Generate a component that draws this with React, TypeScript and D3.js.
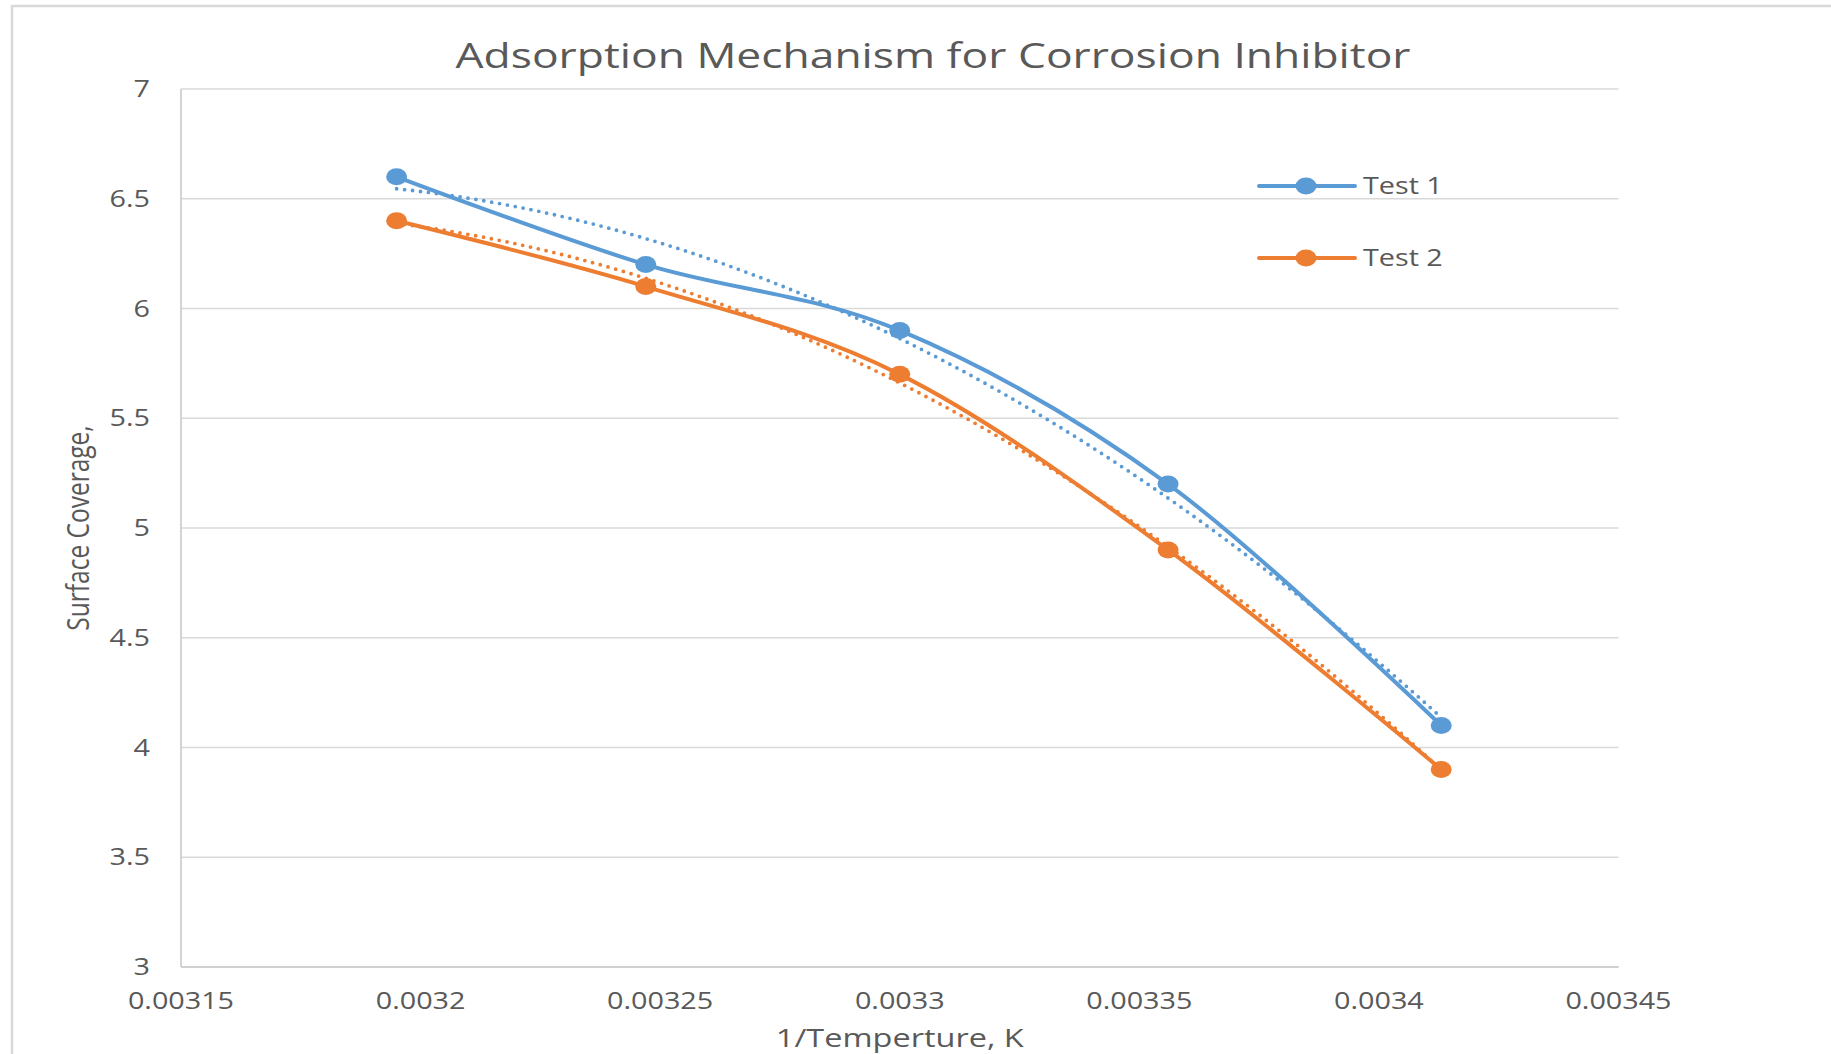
import React from "react";
import * as d3 from "d3";

const invTemp = [0.003195, 0.003247, 0.0033, 0.003356, 0.003413];
const test1 = [6.6, 6.2, 5.9, 5.2, 4.1];
const test2 = [6.4, 6.1, 5.7, 4.9, 3.9];
const xTicks = [0.00315, 0.0032, 0.00325, 0.0033, 0.00335, 0.0034, 0.00345];
const xTickLabels = ["0.00315", "0.0032", "0.00325", "0.0033", "0.00335", "0.0034", "0.00345"];
const yTicks = [3, 3.5, 4, 4.5, 5, 5.5, 6, 6.5, 7];
const seriesNames = ["Test 1", "Test 2"];
const seriesColors = ["#5B9BD5", "#ED7D31"];

const W = 1831;
const H = 1054;
const SX = 1.25;
const TXT = "#595959";
const FONT = "'Open Sans', 'Noto Sans', sans-serif";

// quadratic least-squares trendline (as Excel's polynomial order 2)
function polyFit2(xs: number[], ys: number[]) {
  const m = d3.mean(xs) as number;
  const s = 1e4;
  const t = xs.map((x) => (x - m) * s);
  let S0 = 0, S1 = 0, S2 = 0, S3 = 0, S4 = 0, T0 = 0, T1 = 0, T2 = 0;
  t.forEach((ti, i) => {
    const y = ys[i];
    S0 += 1; S1 += ti; S2 += ti * ti; S3 += ti ** 3; S4 += ti ** 4;
    T0 += y; T1 += ti * y; T2 += ti * ti * y;
  });
  const A = [
    [S0, S1, S2, T0],
    [S1, S2, S3, T1],
    [S2, S3, S4, T2],
  ];
  for (let i = 0; i < 3; i++) {
    let p = i;
    for (let r = i + 1; r < 3; r++) if (Math.abs(A[r][i]) > Math.abs(A[p][i])) p = r;
    [A[i], A[p]] = [A[p], A[i]];
    for (let r = 0; r < 3; r++) {
      if (r === i) continue;
      const f = A[r][i] / A[i][i];
      for (let c = i; c < 4; c++) A[r][c] -= f * A[i][c];
    }
  }
  const a = A[0][3] / A[0][0], b = A[1][3] / A[1][1], c = A[2][3] / A[2][2];
  return (x: number) => {
    const tt = (x - m) * s;
    return a + b * tt + c * tt * tt;
  };
}

export default function App() {
  const x = d3.scaleLinear().domain([0.00315, 0.00345]).range([181, 1618.5]);
  const y = d3.scaleLinear().domain([3, 7]).range([967, 89]);

  const line = d3
    .line<[number, number]>()
    .x((d) => x(d[0]))
    .y((d) => y(d[1]))
    .curve(d3.curveCardinal.tension(0));

  const straight = d3
    .line<[number, number]>()
    .x((d) => x(d[0]))
    .y((d) => y(d[1]));

  const series = [test1, test2];

  const trends = series.map((ys) => {
    const f = polyFit2(invTemp, ys);
    const x0 = invTemp[0];
    const x1 = invTemp[invTemp.length - 1];
    const pts: [number, number][] = d3.range(0, 61).map((i) => {
      const xv = x0 + ((x1 - x0) * i) / 60;
      return [xv, f(xv)];
    });
    return pts;
  });

  const legendY = [186, 258];

  return (
    <svg
      width={W}
      height={H}
      style={{ position: "absolute", left: 0, top: 0, background: "#fff" }}
      fontFamily={FONT}
    >
      <rect x={0} y={0} width={W} height={H} fill="#fff" />
      <rect x={12} y={6} width={W + 50} height={H + 50} fill="none" stroke="#d9d9d9" strokeWidth={2.5} />

      <text
        x={933}
        y={68}
        textAnchor="middle"
        fontSize={35}
        fill={TXT}
        textLength={955}
        lengthAdjust="spacingAndGlyphs"
      >
        Adsorption Mechanism for Corrosion Inhibitor
      </text>

      {yTicks.map((t) => (
        <line key={t} x1={x(0.00315)} x2={x(0.00345)} y1={y(t)} y2={y(t)} stroke="#d9d9d9" strokeWidth={1.5} />
      ))}
      <line x1={x(0.00315)} x2={x(0.00315)} y1={y(7)} y2={y(3)} stroke="#d0d0d0" strokeWidth={1.8} />
      <line x1={x(0.00315)} x2={x(0.00345)} y1={y(3)} y2={y(3)} stroke="#d0d0d0" strokeWidth={1.8} />

      {yTicks.map((t) => (
        <text
          key={t}
          transform={`translate(150,${y(t)}) scale(${SX},1)`}
          textAnchor="end"
          dy="0.35em"
          fontSize={23}
          fill={TXT}
        >
          {String(t)}
        </text>
      ))}

      {xTicks.map((t, i) => (
        <text
          key={t}
          transform={`translate(${x(t)},1009) scale(${SX},1)`}
          textAnchor="middle"
          fontSize={23}
          fill={TXT}
        >
          {xTickLabels[i]}
        </text>
      ))}

      <text
        transform={`translate(${(x(0.00315) + x(0.00345)) / 2},1047) scale(${SX},1)`}
        textAnchor="middle"
        fontSize={26}
        fill={TXT}
      >
        1/Temperture, K
      </text>
      <text
        transform={`translate(89,${(y(3) + y(7)) / 2}) scale(${SX},1) rotate(-90)`}
        textAnchor="middle"
        fontSize={24.5}
        fill={TXT}
      >
        Surface Coverage,
      </text>

      {trends.map((pts, i) => (
        <path
          key={"tr" + i}
          d={straight(pts) || ""}
          fill="none"
          stroke={seriesColors[i]}
          strokeWidth={3.8}
          strokeDasharray="0 8"
          strokeLinecap="round"
        />
      ))}

      {series.map((ys, i) => {
        const pts: [number, number][] = invTemp.map((xv, j) => [xv, ys[j]]);
        return (
          <g key={"s" + i}>
            <path d={line(pts) || ""} fill="none" stroke={seriesColors[i]} strokeWidth={4} strokeLinecap="round" />
            {pts.map((p, j) => (
              <ellipse key={j} cx={x(p[0])} cy={y(p[1])} rx={10.5} ry={8.5} fill={seriesColors[i]} />
            ))}
          </g>
        );
      })}

      {seriesNames.map((name, i) => (
        <g key={name}>
          <line x1={1259} x2={1355} y1={legendY[i]} y2={legendY[i]} stroke={seriesColors[i]} strokeWidth={4} strokeLinecap="round" />
          <ellipse cx={1306} cy={legendY[i]} rx={10.5} ry={8.5} fill={seriesColors[i]} />
          <text
            transform={`translate(1363,${legendY[i] + 8}) scale(${SX},1)`}
            fontSize={23}
            fill={TXT}
          >
            {name}
          </text>
        </g>
      ))}
    </svg>
  );
}
